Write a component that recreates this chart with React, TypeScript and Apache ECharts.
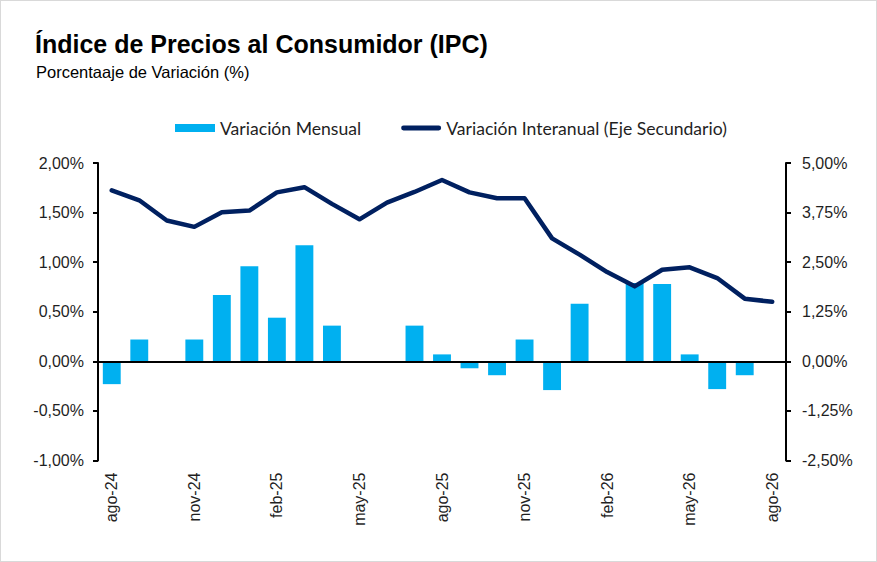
import React, { useEffect, useRef } from "react";
import * as echarts from "echarts";

const categories = [
  "ago-24", "sep-24", "oct-24", "nov-24", "dic-24", "ene-25", "feb-25", "mar-25", "abr-25",
  "may-25", "jun-25", "jul-25", "ago-25", "sep-25", "oct-25", "nov-25", "dic-25", "ene-26",
  "feb-26", "mar-26", "abr-26", "may-26", "jun-26", "jul-26", "ago-26",
];

const monthlyVariation = [
  -0.23, 0.22, 0.0, 0.22, 0.67, 0.96, 0.44, 1.17, 0.36,
  0.0, 0.0, 0.36, 0.07, -0.07, -0.14, 0.22, -0.29, 0.58,
  0.0, 0.79, 0.78, 0.07, -0.28, -0.14, 0.0,
];

const interannualVariation = [
  4.31, 4.06, 3.55, 3.39, 3.76, 3.8, 4.26, 4.39, 3.97,
  3.58, 4.0, 4.27, 4.57, 4.26, 4.11, 4.11, 3.1, 2.69,
  2.25, 1.89, 2.31, 2.37, 2.1, 1.58, 1.5,
];

const seriesNames = ["Variación Mensual", "Variación Interanual (Eje Secundario)"];
const titleText = "Índice de Precios al Consumidor (IPC)";
const subtitleText = "Porcentaaje de Variación (%)";

const fmt = (v: number) => v.toFixed(2).replace(".", ",") + "%";

const lineIcon =
  "path://M2.5,0 L39.5,0 A2.5,2.5 0 0 1 39.5,5 L2.5,5 A2.5,2.5 0 0 1 2.5,0 Z";

export default function App() {
  const ref = useRef<HTMLDivElement>(null);

  useEffect(() => {
    document.body.style.margin = "0";
    if (!ref.current) return;
    const chart = echarts.init(ref.current, undefined, { renderer: "svg" });
    const axisFont = { fontFamily: "Liberation Sans, Arial, sans-serif", fontSize: 16, color: "#1f1f1f" };
    chart.setOption({
      animation: false,
      backgroundColor: "#ffffff",
      title: [
        {
          text: titleText,
          left: 34,
          top: 30,
          padding: 0,
          textStyle: { fontFamily: "Liberation Sans, Arial, sans-serif", fontWeight: "bold", fontSize: 25, color: "#000" },
        },
        {
          text: subtitleText,
          left: 35,
          top: 62,
          padding: 0,
          textStyle: { fontFamily: "Liberation Sans, Arial, sans-serif", fontWeight: "normal", fontSize: 16.5, color: "#000" },
        },
      ],
      legend: {
        left: 174,
        top: 118,
        padding: 0,
        itemWidth: 40,
        itemHeight: 8,
        itemGap: 40,
        textStyle: { fontFamily: "Lato, Open Sans, sans-serif", fontSize: 17.6, color: "#1f1f1f" },
        data: [
          { name: seriesNames[0], icon: "rect" },
          { name: seriesNames[1], icon: lineIcon },
        ],
      },
      grid: { left: 97, right: 90, top: 162, bottom: 100.5, containLabel: false },
      xAxis: {
        type: "category",
        data: categories,
        axisLine: { show: false, onZero: false },
        axisTick: { show: false },
        axisLabel: { ...axisFont, rotate: 90, interval: 2, margin: 12 },
        splitLine: { show: false },
      },
      yAxis: [
        {
          type: "value",
          min: -1,
          max: 2,
          interval: 0.5,
          position: "left",
          axisLine: { show: true, lineStyle: { color: "#000", width: 2 } },
          axisTick: { show: true, length: 5, lineStyle: { color: "#000", width: 2 } },
          axisLabel: { ...axisFont, margin: 14, formatter: (v: number) => fmt(v) },
          splitLine: { show: false },
        },
        {
          type: "value",
          min: -2.5,
          max: 5,
          interval: 1.25,
          position: "right",
          axisLine: { show: true, lineStyle: { color: "#000", width: 2 } },
          axisTick: { show: true, length: 5, lineStyle: { color: "#000", width: 2 } },
          axisLabel: { ...axisFont, margin: 16, formatter: (v: number) => fmt(v) },
          splitLine: { show: false },
        },
      ],
      series: [
        {
          name: seriesNames[0],
          type: "bar",
          yAxisIndex: 0,
          data: monthlyVariation,
          barCategoryGap: "35%",
          itemStyle: { color: "#00B0F0" },
          markLine: {
            silent: true,
            symbol: "none",
            label: { show: false },
            lineStyle: { color: "#000", width: 2, type: "solid" },
            data: [{ yAxis: 0 }],
          },
        },
        {
          name: seriesNames[1],
          type: "line",
          yAxisIndex: 1,
          data: interannualVariation,
          symbol: "none",
          lineStyle: { color: "#002060", width: 4.5, cap: "round", join: "round" },
          itemStyle: { color: "#002060" },
          z: 5,
        },
      ],
    });
    return () => chart.dispose();
  }, []);

  return (
    <div
      ref={ref}
      style={{ width: 877, height: 562, boxSizing: "border-box", border: "1px solid #d9d9d9" }}
    />
  );
}
